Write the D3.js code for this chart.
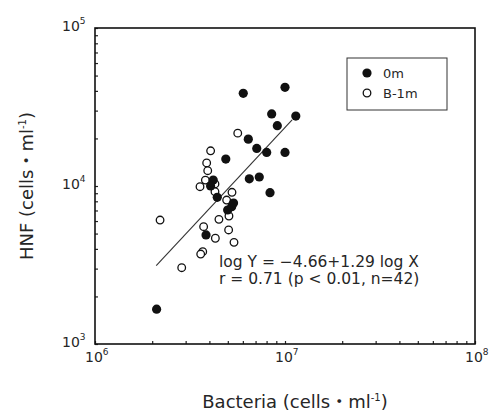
<!DOCTYPE html>
<html>
<head>
<meta charset="utf-8">
<script src="https://cdn.jsdelivr.net/npm/d3@7"></script>
<style>
  body { margin: 0; background: #fff; }
  svg text { font-family: "DejaVu Sans", "Noto Sans CJK JP", sans-serif; fill: #262626; }
</style>
</head>
<body>
<div id="chart"></div>
<script>
// HNF vs bacteria, log-log scatter with regression line

// 0m samples (filled circles)
const surfBacteria = [6.03e6, 1.0e7, 8.51e6, 1.14e7, 9.11e6, 6.41e6, 7.10e6, 8.01e6, 1.0e7, 4.88e6,
    6.49e6, 7.32e6, 8.34e6, 4.19e6, 4.06e6, 4.40e6, 4.99e6, 5.24e6, 5.36e6, 3.84e6, 2.11e6];
const surfHNF = [38600, 42100, 28600, 27700, 24100, 19800, 17300, 16300, 16300, 14800,
    11100, 11400, 9070, 10900, 10000, 8480, 7050, 7400, 7800, 4900, 1660];

// B-1m samples (open circles)
const deepBacteria = [5.64e6, 4.06e6, 3.87e6, 3.92e6, 3.81e6, 3.57e6, 4.28e6, 4.28e6, 5.26e6, 4.93e6,
    5.07e6, 4.49e6, 3.73e6, 5.05e6, 4.30e6, 5.39e6, 3.69e6, 3.60e6, 2.20e6, 2.86e6];
const deepHNF = [21600, 16700, 14000, 12500, 10900, 9900, 10300, 9200, 9120, 8150,
    6460, 6150, 5530, 5270, 4670, 4400, 3840, 3710, 6090, 3040];

// regression: log Y = -4.66 + 1.29 log X
const fitIntercept = -4.66;
const fitSlope = 1.29;
const fitRange = [2.1e6, 1.09e7];

const xMajor = [6, 7, 8];   // exponents
const yMajor = [3, 4, 5];

const legendItems = ['0m', 'B-1m'];

const W = 492, H = 413;
const margin = { top: 28, right: 17, bottom: 69, left: 95 };
const plotW = W - margin.left - margin.right;
const plotH = H - margin.top - margin.bottom;

const svg = d3.select('#chart').append('svg')
    .attr('width', W)
    .attr('height', H);

const g = svg.append('g')
    .attr('transform', `translate(${margin.left},${margin.top})`);

const xScale = d3.scaleLog().domain([1e6, 1e8]).range([0, plotW]);
const yScale = d3.scaleLog().domain([1e3, 1e5]).range([plotH, 0]);

// minor + major tick positions
function logTicks(lo, hi) {
    const out = [];
    for (let e = lo; e < hi; e++) {
        for (let m = 1; m <= 9; m++) out.push(m * Math.pow(10, e));
    }
    out.push(Math.pow(10, hi));
    return out;
}

const xAxis = d3.axisBottom(xScale)
    .tickValues(logTicks(6, 8))
    .tickSizeInner(-3)
    .tickSizeOuter(0)
    .tickFormat('');

const yAxis = d3.axisLeft(yScale)
    .tickValues(logTicks(3, 5))
    .tickSizeInner(-3)
    .tickSizeOuter(0)
    .tickFormat('');

const xg = g.append('g')
    .attr('transform', `translate(0,${plotH})`)
    .call(xAxis);
const yg = g.append('g').call(yAxis);

[xg, yg].forEach(a => {
    a.selectAll('path.domain').remove();
    a.selectAll('line').attr('stroke', '#222').attr('stroke-width', 1.2);
});

// frame
g.append('rect')
    .attr('x', 0)
    .attr('y', 0)
    .attr('width', plotW)
    .attr('height', plotH)
    .attr('fill', 'none')
    .attr('stroke', '#111')
    .attr('stroke-width', 1.6);

// major tick labels with superscript exponents
const xLab = g.selectAll('.x-label')
    .data(xMajor)
    .enter()
    .append('text')
    .attr('class', 'x-label')
    .attr('x', d => xScale(Math.pow(10, d)) - 10)
    .attr('y', plotH + 18)
    .style('font-size', '14px');
xLab.append('tspan').text('10');
xLab.append('tspan')
    .attr('dy', -7)
    .style('font-size', '9px')
    .text(d => d);

const yLab = g.selectAll('.y-label')
    .data(yMajor)
    .enter()
    .append('text')
    .attr('class', 'y-label')
    .attr('x', -33)
    .attr('y', d => yScale(Math.pow(10, d)) + 3)
    .style('font-size', '14px');
yLab.append('tspan').text('10');
yLab.append('tspan')
    .attr('dy', -7)
    .style('font-size', '9px')
    .text(d => d);

// axis titles
const xTitle = svg.append('text')
    .attr('x', 295)
    .attr('y', 408)
    .attr('text-anchor', 'middle')
    .style('font-size', '18px');
xTitle.append('tspan').text('Bacteria (cells');
xTitle.append('tspan').style('font-family', '"Noto Sans CJK JP"').text('・');
xTitle.append('tspan').text('ml');
xTitle.append('tspan').attr('dy', -7).style('font-size', '10px').text('-1');
xTitle.append('tspan').attr('dy', 7).text(')');

const yTitle = svg.append('text')
    .attr('transform', 'translate(33,186) rotate(-90)')
    .attr('text-anchor', 'middle')
    .style('font-size', '18px');
yTitle.append('tspan').text('HNF (cells');
yTitle.append('tspan').style('font-family', '"Noto Sans CJK JP"').text('・');
yTitle.append('tspan').text('ml');
yTitle.append('tspan').attr('dy', -7).style('font-size', '10px').text('-1');
yTitle.append('tspan').attr('dy', 7).text(')');

// regression line
const fitLine = d3.line()
    .x(d => xScale(d))
    .y(d => yScale(Math.pow(10, fitIntercept + fitSlope * Math.log10(d))));

g.append('path')
    .datum(fitRange)
    .attr('d', fitLine)
    .attr('fill', 'none')
    .attr('stroke', '#333')
    .attr('stroke-width', 1.1);

// points
const surf = surfBacteria.map((b, i) => ({ b, h: surfHNF[i] }));
const deep = deepBacteria.map((b, i) => ({ b, h: deepHNF[i] }));

g.selectAll('.pt-deep')
    .data(deep)
    .enter()
    .append('circle')
    .attr('class', 'pt-deep')
    .attr('cx', d => xScale(d.b))
    .attr('cy', d => yScale(d.h))
    .attr('r', 3.8)
    .attr('fill', '#fff')
    .attr('stroke', '#111')
    .attr('stroke-width', 1.3);

g.selectAll('.pt-surf')
    .data(surf)
    .enter()
    .append('circle')
    .attr('class', 'pt-surf')
    .attr('cx', d => xScale(d.b))
    .attr('cy', d => yScale(d.h))
    .attr('r', 4.6)
    .attr('fill', '#111');

// equation text
g.append('text')
    .attr('x', 124)
    .attr('y', 239)
    .style('font-size', '15.5px')
    .text('log Y = \u22124.66+1.29 log X');
g.append('text')
    .attr('x', 124)
    .attr('y', 256)
    .style('font-size', '15.5px')
    .text('r = 0.71 (p < 0.01, n=42)');

// legend
const legend = svg.append('g').attr('transform', 'translate(347,58)');
legend.append('rect')
    .attr('width', 100)
    .attr('height', 52)
    .attr('fill', '#fff')
    .attr('stroke', '#333')
    .attr('stroke-width', 1);

legendItems.forEach((name, i) => {
    const row = legend.append('g').attr('transform', `translate(0,${15 + i * 20})`);
    row.append('circle')
        .attr('cx', 20)
        .attr('cy', 0)
        .attr('r', i === 0 ? 4.6 : 3.8)
        .attr('fill', i === 0 ? '#111' : '#fff')
        .attr('stroke', '#111')
        .attr('stroke-width', i === 0 ? 0 : 1.3);
    row.append('text')
        .attr('x', 36)
        .attr('y', 5)
        .style('font-size', '13px')
        .text(name);
});
</script>
</body>
</html>
